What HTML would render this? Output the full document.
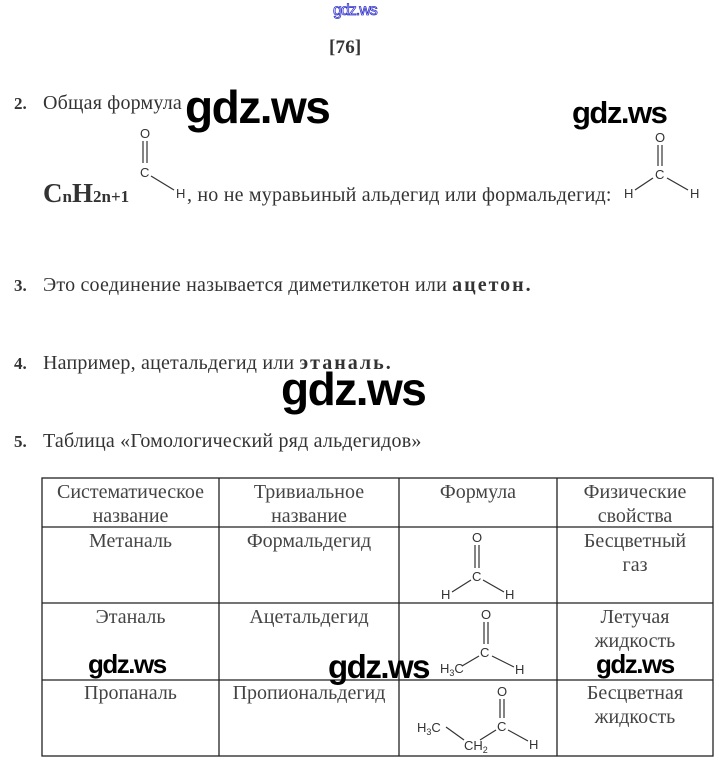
<!DOCTYPE html>
<html><head><meta charset="utf-8"><style>
body{margin:0;width:719px;height:762px;background:#fff;position:relative;overflow:hidden;font-family:"Liberation Serif",serif;color:#333}
.t{position:absolute;font-size:20px;white-space:nowrap;line-height:1;letter-spacing:0.2px}
.n{position:absolute;font-size:17px;font-weight:bold;left:14px;line-height:1}
.w{position:absolute;font-family:"Liberation Sans",sans-serif;color:#000;white-space:nowrap;line-height:1;letter-spacing:-1.5px;font-weight:bold}
.c{position:absolute;font-size:20px;text-align:center;line-height:24px;color:#444;white-space:nowrap}
svg{position:absolute;left:0;top:0}
</style></head><body>
<div class="w" style="left:333px;top:3px;font-size:16px;color:#fff;-webkit-text-stroke:0.8px #3333cc;font-weight:normal;letter-spacing:-1px">gdz.ws</div>
<div class="t" style="left:329px;top:38px;font-size:19px;font-weight:bold">[76]</div>

<div class="n" style="top:95px">2.</div>
<div class="t" style="left:43px;top:93px">Общая формула</div>
<div class="w" style="left:185px;top:84px;font-size:46px">gdz.ws</div>
<div class="w" style="left:572px;top:97px;font-size:31px">gdz.ws</div>
<div class="t" style="left:43px;top:180px;font-size:27px;font-weight:bold;letter-spacing:0">C<span style="font-size:17px">n</span>H<span style="font-size:17px">2n+1</span></div>
<div class="t" style="left:187px;top:185px">, но не муравьиный альдегид или формальдегид:</div>

<div class="n" style="top:277px">3.</div>
<div class="t" style="left:43px;top:275px">Это соединение называется диметилкетон или <b style="letter-spacing:2px">ацетон.</b></div>
<div class="n" style="top:355px">4.</div>
<div class="t" style="left:43px;top:353px">Например, ацетальдегид или <b style="letter-spacing:2px">этаналь.</b></div>
<div class="w" style="left:281px;top:366px;font-size:46px">gdz.ws</div>
<div class="n" style="top:433px">5.</div>
<div class="t" style="left:43px;top:431px">Таблица «Гомологический ряд альдегидов»</div>

<svg width="719" height="762" font-family="Liberation Sans, sans-serif" font-size="13" fill="#333">
<g stroke="#222" stroke-width="1.3" fill="none">
<rect x="42" y="478" width="671" height="278"/>
<line x1="42" y1="527" x2="713" y2="527"/>
<line x1="42" y1="603" x2="713" y2="603"/>
<line x1="42" y1="680" x2="713" y2="680"/>
<line x1="219" y1="478" x2="219" y2="756"/>
<line x1="399" y1="478" x2="399" y2="756"/>
<line x1="557" y1="478" x2="557" y2="756"/>
</g>
<g stroke="#333" stroke-width="1.2" fill="none">
<line x1="143" y1="141" x2="143" y2="163"/><line x1="147" y1="141" x2="147" y2="163"/><line x1="151" y1="176" x2="174" y2="190"/>
<line x1="658" y1="145" x2="658" y2="166"/><line x1="662" y1="145" x2="662" y2="166"/><line x1="653" y1="178" x2="635" y2="190"/><line x1="667" y1="178" x2="688" y2="190"/>
<line x1="475" y1="545" x2="475" y2="568"/><line x1="479" y1="545" x2="479" y2="568"/><line x1="471" y1="580" x2="452" y2="592"/><line x1="483" y1="580" x2="504" y2="592"/>
<line x1="484" y1="622" x2="484" y2="644"/><line x1="488" y1="622" x2="488" y2="644"/><line x1="479" y1="656" x2="462" y2="666"/><line x1="492" y1="656" x2="514" y2="667"/>
<line x1="500" y1="699" x2="500" y2="718"/><line x1="504" y1="699" x2="504" y2="718"/><line x1="446" y1="727" x2="464" y2="740"/><line x1="480" y1="740" x2="496" y2="730"/><line x1="508" y1="730" x2="528" y2="741"/>
</g>
<text x="140" y="138">O</text><text x="140" y="177">C</text><text x="176" y="198">H</text>
<text x="655" y="142">O</text><text x="655" y="179">C</text><text x="624" y="198">H</text><text x="690" y="198">H</text>
<text x="472" y="542">O</text><text x="472" y="581">C</text><text x="441" y="599">H</text><text x="505" y="599">H</text>
<text x="481" y="619">O</text><text x="480" y="657">C</text><text x="440" y="673">H<tspan font-size="9" dy="3">3</tspan><tspan dy="-3">C</tspan></text><text x="515" y="674">H</text>
<text x="497" y="696">O</text><text x="497" y="731">C</text><text x="417" y="732">H<tspan font-size="9" dy="3">3</tspan><tspan dy="-3">C</tspan></text><text x="464" y="750">CH<tspan font-size="9" dy="3">2</tspan></text><text x="529" y="749">H</text>
</svg>

<div class="c" style="left:42px;top:480px;width:177px">Систематическое<br>название</div>
<div class="c" style="left:219px;top:480px;width:180px">Тривиальное<br>название</div>
<div class="c" style="left:399px;top:480px;width:158px">Формула</div>
<div class="c" style="left:557px;top:480px;width:156px">Физические<br>свойства</div>
<div class="c" style="left:42px;top:529px;width:177px">Метаналь</div>
<div class="c" style="left:219px;top:529px;width:180px">Формальдегид</div>
<div class="c" style="left:557px;top:529px;width:156px">Бесцветный<br>газ</div>
<div class="c" style="left:42px;top:605px;width:177px">Этаналь</div>
<div class="c" style="left:219px;top:605px;width:180px">Ацетальдегид</div>
<div class="c" style="left:557px;top:605px;width:156px">Летучая<br>жидкость</div>
<div class="c" style="left:42px;top:681px;width:177px">Пропаналь</div>
<div class="c" style="left:219px;top:681px;width:180px">Пропиональдегид</div>
<div class="c" style="left:557px;top:681px;width:156px">Бесцветная<br>жидкость</div>

<div class="w" style="left:88px;top:651px;font-size:26px">gdz.ws</div>
<div class="w" style="left:328px;top:650px;font-size:33px">gdz.ws</div>
<div class="w" style="left:596px;top:651px;font-size:26px">gdz.ws</div>
</body></html>
